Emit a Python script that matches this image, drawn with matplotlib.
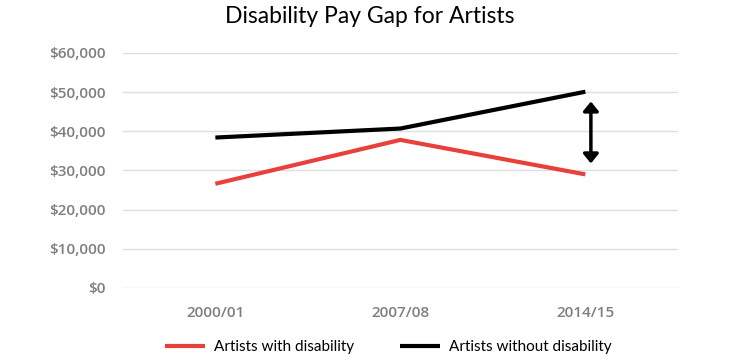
import numpy as np
import matplotlib.pyplot as plt

years = ["2000/01", "2007/08", "2014/15"]
with_disability = [26600, 37800, 29000]
without_disability = [38400, 40700, 50100]
yticks = [0, 10000, 20000, 30000, 40000, 50000, 60000]

fig = plt.figure(figsize=(7.4, 3.6), dpi=100)
ax = fig.add_axes([0.166, 0.2, 0.75, 0.653])

x = np.arange(len(years))
ax.plot(x, with_disability, color='#e8403a', lw=3, label='Artists with disability',
        solid_capstyle='butt')
ax.plot(x, without_disability, color='black', lw=3, label='Artists without disability',
        solid_capstyle='butt')

# gap arrow
ax.annotate('', xy=(2.03, 31800), xytext=(2.03, 47600),
            arrowprops=dict(arrowstyle='<|-|>,head_length=0.55,head_width=0.45',
                            color='black', lw=2.5, shrinkA=0, shrinkB=0))

ax.set_xlim(-0.5, 2.5)
ax.set_ylim(0, 60000)
ax.set_xticks(x)
ax.set_xticklabels(years)
ax.set_yticks(yticks)
ax.set_yticklabels(['${:,}'.format(v) for v in yticks])
ax.grid(axis='y', color='#dedede', lw=1)
ax.set_axisbelow(True)
for s in ax.spines.values():
    s.set_visible(False)
ax.tick_params(length=0, labelsize=11, labelcolor='#7f7f7f', pad=12)
ax.tick_params(axis='x', pad=13)
for lab in ax.get_xticklabels() + ax.get_yticklabels():
    lab.set_fontfamily('Open Sans')
    lab.set_fontweight('semibold')

fig.text(0.5, 0.955, 'Disability Pay Gap for Artists', ha='center', va='center',
         fontsize=16.5, family='Lato')

fig.legend(loc='center', bbox_to_anchor=(0.525, 0.035), ncol=2, frameon=False,
           prop={'family': 'Lato', 'size': 11}, handlelength=2.6,
           columnspacing=3.0, handletextpad=0.6)

fig.savefig('out.png', dpi=100)
